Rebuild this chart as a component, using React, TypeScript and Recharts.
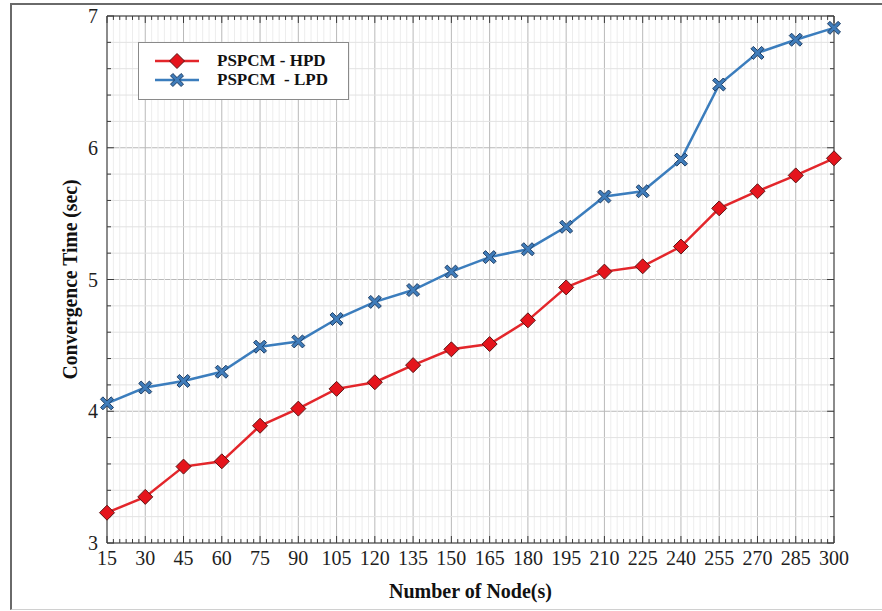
import {
  LineChart,
  Line,
  XAxis,
  YAxis,
  CartesianGrid,
  ReferenceLine,
} from "recharts";

const NODES = [15, 30, 45, 60, 75, 90, 105, 120, 135, 150, 165, 180, 195, 210, 225, 240, 255, 270, 285, 300];
const HPD = [3.23, 3.35, 3.58, 3.62, 3.89, 4.02, 4.17, 4.22, 4.35, 4.47, 4.51, 4.69, 4.94, 5.06, 5.1, 5.25, 5.54, 5.67, 5.79, 5.92];
const LPD = [4.06, 4.18, 4.23, 4.3, 4.49, 4.53, 4.7, 4.83, 4.92, 5.06, 5.17, 5.23, 5.4, 5.63, 5.67, 5.91, 6.48, 6.72, 6.82, 6.91];
const Y_TICKS = [3, 4, 5, 6, 7];

const SERIES = [
  { key: "hpd", name: "PSPCM - HPD", color: "#e3262b" },
  { key: "lpd", name: "PSPCM  - LPD", color: "#3b7dbd" },
];

const data = NODES.map((n, i) => ({ n, hpd: HPD[i], lpd: LPD[i] }));

// minor grid/tick positions: 6 sub-steps per x interval, 0.2 steps on y
const minorX = NODES.slice(0, -1).flatMap((n) => [1, 2, 3, 4, 5].map((k) => n + k * 2.5));
const minorY = Array.from({ length: 19 }, (_, i) => +(3 + (i + 1) * 0.2).toFixed(1)).filter(
  (v) => !Y_TICKS.includes(v),
);

const FONT = "'Liberation Serif', 'Times New Roman', serif";
const AXIS = "#3a3a3a";

function Diamond({ cx, cy }: { cx?: number; cy?: number }) {
  if (cx == null || cy == null) return null;
  const r = 7.5;
  return (
    <path
      d={`M${cx},${cy - r} L${cx + r},${cy} L${cx},${cy + r} L${cx - r},${cy} Z`}
      fill="#e5141c"
      stroke="#5c1414"
      strokeWidth={1}
    />
  );
}

function Cross({ cx, cy }: { cx?: number; cy?: number }) {
  if (cx == null || cy == null) return null;
  const a = 6.5;
  const w = 2.4;
  const d = `M${cx - a + w},${cy - a} L${cx},${cy - w} L${cx + a - w},${cy - a} L${cx + a},${cy - a + w} L${cx + w},${cy} L${cx + a},${cy + a - w} L${cx + a - w},${cy + a} L${cx},${cy + w} L${cx - a + w},${cy + a} L${cx - a},${cy + a - w} L${cx - w},${cy} L${cx - a},${cy - a + w} Z`;
  return <path d={d} fill="#3f7cba" stroke="#1f3f66" strokeWidth={1} />;
}

function LegendBox() {
  return (
    <div
      style={{
        position: "absolute",
        left: 138,
        top: 42,
        width: 209,
        height: 56,
        background: "#fff",
        border: "1px solid #8a8a8a",
        fontFamily: FONT,
        fontWeight: "bold",
        fontSize: 17,
        color: "#111",
      }}
    >
      {SERIES.map((s, i) => (
        <div
          key={s.key}
          style={{ position: "absolute", left: 0, top: 9 + i * 19, height: 18, display: "flex", alignItems: "center" }}
        >
          <svg width={76} height={18}>
            <line x1={16} x2={60} y1={9} y2={9} stroke={s.color} strokeWidth={2.5} />
            {i === 0 ? <Diamond cx={38} cy={9} /> : <Cross cx={38} cy={9} />}
          </svg>
          <span style={{ whiteSpace: "pre", marginLeft: 2 }}>{s.name}</span>
        </div>
      ))}
    </div>
  );
}

export default function App() {
  const majX = 2.74;
  const minX = 1.57;
  const majY = 0.053;
  const minY = 0.03;

  return (
    <div style={{ position: "absolute", left: 0, top: 0, width: 882, height: 611, background: "#fff", overflow: "hidden" }}>
      <div
        style={{
          position: "absolute",
          left: 10,
          top: 3,
          width: 890,
          height: 604,
          borderTop: "2px solid #6a6a6a",
          borderLeft: "2px solid #6a6a6a",
          borderBottom: "1px solid #d0d0d0",
        }}
      />
      <LineChart
        width={882}
        height={611}
        data={data}
        margin={{ top: 16, right: 48, bottom: 8, left: 57 }}
        style={{ position: "absolute", left: 0, top: 0 }}
      >
        {minorX.map((v) => (
          <ReferenceLine key={`gx${v}`} x={v} stroke="#ededed" strokeWidth={1} />
        ))}
        {minorY.map((v) => (
          <ReferenceLine key={`gy${v}`} y={v} stroke="#e2e2e2" strokeWidth={1} />
        ))}
        <CartesianGrid stroke="#b9b9b9" strokeWidth={1} />
        <XAxis
          dataKey="n"
          type="number"
          domain={[15, 300]}
          ticks={NODES}
          interval={0}
          height={60}
          tickSize={0}
          tickMargin={8}
          axisLine={{ stroke: AXIS }}
          tick={{ fontFamily: FONT, fontSize: 20, fill: "#1e1e1e" }}
          label={{
            value: "Number of Node(s)",
            position: "insideBottom",
            offset: 5,
            style: { fontFamily: FONT, fontSize: 20, fontWeight: "bold", fill: "#111" },
          }}
        />
        <YAxis
          type="number"
          domain={[3, 7]}
          ticks={Y_TICKS}
          width={50}
          tickSize={0}
          tickMargin={9}
          axisLine={{ stroke: AXIS }}
          tick={{ fontFamily: FONT, fontSize: 20, fill: "#1e1e1e" }}
          label={({ viewBox }: any) => {
            const x = viewBox.x + 13;
            const y = viewBox.y + viewBox.height / 2;
            return (
              <text
                x={x}
                y={y}
                transform={`rotate(-90, ${x}, ${y})`}
                textAnchor="middle"
                dominantBaseline="central"
                textLength={200}
                lengthAdjust="spacingAndGlyphs"
                style={{ fontFamily: FONT, fontSize: 20, fontWeight: "bold", fill: "#111" }}
              >
                Convergence Time (sec)
              </text>
            );
          }}
        />
        <ReferenceLine y={7} stroke={AXIS} />
        <ReferenceLine x={300} stroke={AXIS} />
        {NODES.map((v) => (
          <ReferenceLine key={`tb${v}`} segment={[{ x: v, y: 3 }, { x: v, y: 3 + majY }]} stroke={AXIS} />
        ))}
        {NODES.map((v) => (
          <ReferenceLine key={`tt${v}`} segment={[{ x: v, y: 7 - majY }, { x: v, y: 7 }]} stroke={AXIS} />
        ))}
        {minorX.map((v) => (
          <ReferenceLine key={`mb${v}`} segment={[{ x: v, y: 3 }, { x: v, y: 3 + minY }]} stroke={AXIS} />
        ))}
        {minorX.map((v) => (
          <ReferenceLine key={`mt${v}`} segment={[{ x: v, y: 7 - minY }, { x: v, y: 7 }]} stroke={AXIS} />
        ))}
        {Y_TICKS.map((v) => (
          <ReferenceLine key={`tl${v}`} segment={[{ x: 15, y: v }, { x: 15 + majX, y: v }]} stroke={AXIS} />
        ))}
        {Y_TICKS.map((v) => (
          <ReferenceLine key={`tr${v}`} segment={[{ x: 300 - majX, y: v }, { x: 300, y: v }]} stroke={AXIS} />
        ))}
        {minorY.map((v) => (
          <ReferenceLine key={`ml${v}`} segment={[{ x: 15, y: v }, { x: 15 + minX, y: v }]} stroke={AXIS} />
        ))}
        {minorY.map((v) => (
          <ReferenceLine key={`mr${v}`} segment={[{ x: 300 - minX, y: v }, { x: 300, y: v }]} stroke={AXIS} />
        ))}
        <Line
          dataKey="hpd"
          name={SERIES[0].name}
          stroke={SERIES[0].color}
          strokeWidth={2.5}
          isAnimationActive={false}
          dot={(p: any) => <Diamond key={`d${p.index}`} cx={p.cx} cy={p.cy} />}
          activeDot={false}
        />
        <Line
          dataKey="lpd"
          name={SERIES[1].name}
          stroke={SERIES[1].color}
          strokeWidth={2.5}
          isAnimationActive={false}
          dot={(p: any) => <Cross key={`c${p.index}`} cx={p.cx} cy={p.cy} />}
          activeDot={false}
        />
      </LineChart>
      <LegendBox />
    </div>
  );
}
